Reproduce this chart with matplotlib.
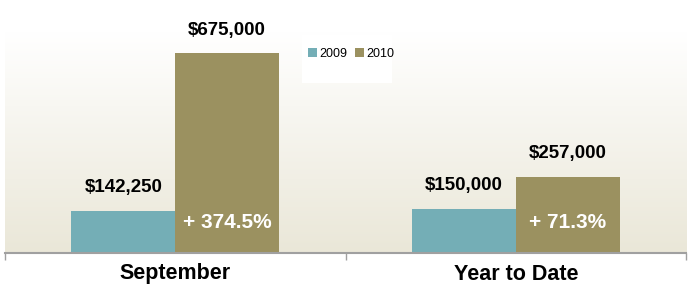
import numpy as np
import matplotlib
matplotlib.use("Agg")
import matplotlib.pyplot as plt
from matplotlib.colors import LinearSegmentedColormap
from matplotlib.patches import Rectangle

categories = ["September", "Year to Date"]
sales_2009 = [142250, 150000]
sales_2010 = [675000, 257000]
change_labels = ["+ 374.5%", "+ 71.3%"]
series_names = ["2009", "2010"]

teal = "#74AEB6"
olive = "#9B9160"
font = ["Liberation Sans Narrow", "Liberation Sans", "DejaVu Sans"]

fig = plt.figure(figsize=(6.89, 2.94), dpi=100)
ax = fig.add_axes([5 / 689, 41 / 294, 681 / 689, 221 / 294])

ymax = 746000
# background gradient, white at top to beige at the bottom
grad = np.linspace(0, 1, 256).reshape(-1, 1)
cmap = LinearSegmentedColormap.from_list("bg", ["#EAE7D8", "#FFFFFF"])
ax.imshow(grad, aspect="auto", cmap=cmap, origin="lower",
          extent=(-0.5, 1.5, 0, ymax), zorder=0)

x = np.arange(len(categories))
w = 0.305
b1 = ax.bar(x - w / 2, sales_2009, w, color=teal, zorder=2, label=series_names[0])
b2 = ax.bar(x + w / 2, sales_2010, w, color=olive, zorder=2, label=series_names[1])

for rect, v in zip(list(b1) + list(b2), sales_2009 + sales_2010):
    ax.annotate("${:,.0f}".format(v), (rect.get_x() + rect.get_width() / 2, v),
                xytext=(0, 23), textcoords="offset pixels",
                ha="center", va="center", fontsize=13.5, fontweight="bold",
                family=font, color="black")

for rect, lab in zip(b2, change_labels):
    ax.annotate(lab, (rect.get_x() + rect.get_width() / 2, 0),
                xytext=(0, 30), textcoords="offset pixels",
                ha="center", va="center", fontsize=15, fontweight="bold",
                family=font, color="white", zorder=3)

for i, c in enumerate(categories):
    ax.annotate(c, (i, 0), xytext=(0, -21), textcoords="offset pixels",
                ha="center", va="center", fontsize=15.5, fontweight="bold",
                family=font, color="black", annotation_clip=False)

ax.set_xlim(-0.5, 1.5)
ax.set_ylim(0, ymax)
ax.set_yticks([])
ax.set_xticks([-0.5, 0.5, 1.5])
ax.set_xticklabels([])
ax.tick_params(axis="x", direction="out", length=5, width=1, color="#A0A0A0")
for s in ["top", "right", "left"]:
    ax.spines[s].set_visible(False)
ax.spines["bottom"].set_color("#A0A0A0")
ax.spines["bottom"].set_linewidth(1.5)

# white legend box
ax.add_patch(Rectangle((297 / 681, (221 - 51) / 221), 90 / 681, 48 / 221,
                       transform=ax.transAxes, facecolor="white",
                       edgecolor="none", zorder=5))
leg = ax.legend(loc="upper left", bbox_to_anchor=(302 / 689, 1 - 42 / 294),
                bbox_transform=fig.transFigure, ncol=2, frameon=False,
                handlelength=0.7, handleheight=0.7, handletextpad=0.2,
                columnspacing=0.6, borderpad=0, prop={"family": font, "size": 9})
leg.set_zorder(6)

fig.savefig("out.png", dpi=100)
